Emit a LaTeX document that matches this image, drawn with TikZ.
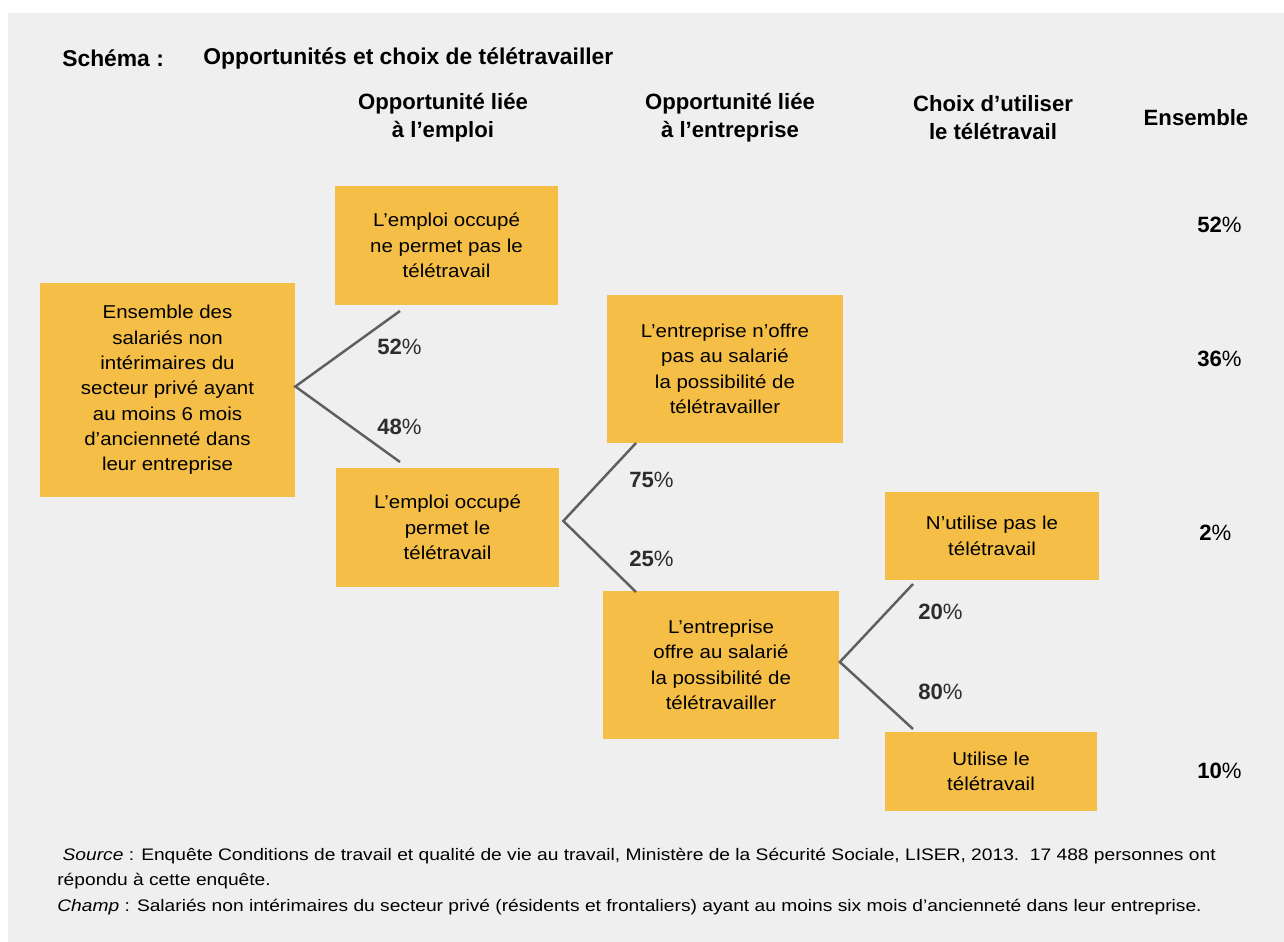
\documentclass[tikz,border=0pt]{standalone}
\usepackage{fontspec}
\setmainfont{Liberation Sans}
\newfontfamily\boxfont[FakeStretch=1.1]{Liberation Sans}
\newfontfamily\notefont[FakeStretch=1.15]{Liberation Sans}
\usetikzlibrary{calc}
\definecolor{bggray}{HTML}{EFEFEF}
\definecolor{boxorange}{HTML}{F5BF47}
\definecolor{linegray}{HTML}{5F5F5F}
\definecolor{pctgray}{HTML}{2D2D2D}

\begin{document}
\begin{tikzpicture}[
        x=0.02cm, y=-0.02cm,
        box/.style={fill=boxorange, align=center, inner sep=0pt,
            font=\boxfont\fontsize{10.6}{14.45}\selectfont},
        head/.style={align=center, font=\bfseries\fontsize{12.6}{15.9}\selectfont},
        ttl/.style={anchor=west, inner sep=0pt, font=\bfseries\fontsize{13}{15}\selectfont},
        pct/.style={anchor=west, inner sep=0pt, text=pctgray, font=\fontsize{12.6}{14}\selectfont},
        total/.style={anchor=west, inner sep=0pt, font=\fontsize{12.6}{14}\selectfont},
        branch/.style={draw=linegray, line width=1.4pt},
        note/.style={anchor=west, align=left, inner sep=0pt, font=\notefont\fontsize{9.5}{14.5}\selectfont}
    ]
    \useasboundingbox (0,0) rectangle (1284,942);
    \fill[bggray] (8,13) rectangle (1284,942);

    % title
    \node[ttl] (ttl1) at (62,58) {Schéma :};
    \node[ttl] (ttl2) at (203,58) {Opportunités et choix de télétravailler};

    % column heads
    \node[head] (hEmp) at (443,118) {Opportunité liée\\à l’emploi};
    \node[head] (hEnt) at (730,118) {Opportunité liée\\à l’entreprise};
    \node[head] (hUse) at (993,118) {Choix d’utiliser\\le télétravail};
    \node[head] (hAll) at (1196,118) {Ensemble};

    % boxes
    \node[box, minimum width=5.1cm, minimum height=4.28cm] (root) at (167.5,390)
        {Ensemble des\\salariés non\\intérimaires du\\secteur privé ayant\\au moins 6 mois\\d’ancienneté dans\\leur entreprise};
    \node[box, minimum width=4.46cm, minimum height=2.38cm] (empNo) at (446.5,245.5)
        {L’emploi occupé\\ne permet pas le\\télétravail};
    \node[box, minimum width=4.46cm, minimum height=2.38cm] (empYes) at (447.5,527.5)
        {L’emploi occupé\\permet le\\télétravail};
    \node[box, minimum width=4.72cm, minimum height=2.96cm] (entNo) at (725,369)
        {L’entreprise n’offre\\pas au salarié\\la possibilité de\\télétravailler};
    \node[box, minimum width=4.72cm, minimum height=2.96cm] (entYes) at (721,665)
        {L’entreprise\\offre au salarié\\la possibilité de\\télétravailler};
    \node[box, minimum width=4.28cm, minimum height=1.76cm] (useNo) at (992,536)
        {N’utilise pas le\\télétravail};
    \node[box, minimum width=4.24cm, minimum height=1.58cm] (useYes) at (991,771.5)
        {Utilise le\\télétravail};

    % branches
    \coordinate (fkA) at ($(root.east)+(0,-3.5)$);
    \coordinate (fkB) at ($(empYes.east)+(4,-6.5)$);
    \coordinate (fkC) at ($(entYes.east)+(0.5,-3)$);
    \coordinate (tA1) at (400,311);
    \coordinate (tA2) at (400,462);
    \coordinate (tB1) at (636,443);
    \coordinate (tB2) at (636,592);
    \coordinate (tC1) at (913,584);
    \coordinate (tC2) at (913,729);
    \draw[branch] (tA1) -- (fkA) -- (tA2);
    \draw[branch] (tB1) -- (fkB) -- (tB2);
    \draw[branch] (tC1) -- (fkC) -- (tC2);

    \node[pct] (pA1) at (377,347) {\textbf{52}\%};
    \node[pct] (pA2) at (377,427) {\textbf{48}\%};
    \node[pct] (pB1) at (629,480) {\textbf{75}\%};
    \node[pct] (pB2) at (629,559) {\textbf{25}\%};
    \node[pct] (pC1) at (918,612) {\textbf{20}\%};
    \node[pct] (pC2) at (918,692) {\textbf{80}\%};

    % ensemble column
    \node[total] (s1) at (1197,225) {\textbf{52}\%};
    \node[total] (s2) at (1197,359) {\textbf{36}\%};
    \node[total] (s3) at (1199,533) {\textbf{2}\%};
    \node[total] (s4) at (1197,771) {\textbf{10}\%};

    % source
    \node[note] (src) at (57,868.5) {\ \textit{Source} : Enquête Conditions de travail et qualité de vie au travail, Ministère de la Sécurité Sociale, LISER, 2013.\ \ 17 488 personnes ont\\répondu à cette enquête.};
    \node[note] (chp) at (57,907) {\textit{Champ} : Salariés non intérimaires du secteur privé (résidents et frontaliers) ayant au moins six mois d’ancienneté dans leur entreprise.};
\end{tikzpicture}
\end{document}
